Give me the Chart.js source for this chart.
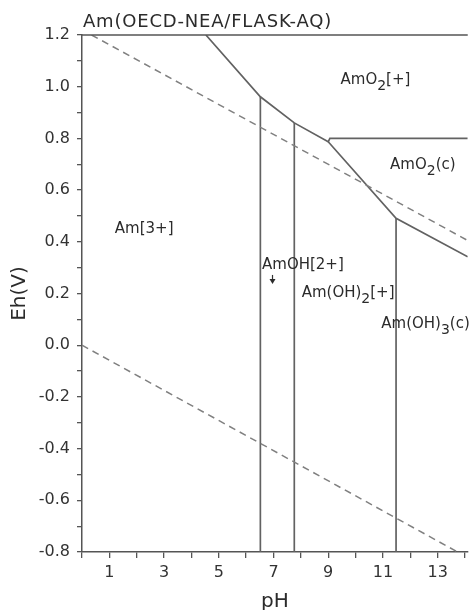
<!DOCTYPE html>
<html>
<head>
<meta charset="utf-8">
<title>Am Eh-pH diagram</title>
<script src="https://cdn.jsdelivr.net/npm/chart.js@4.4.0/dist/chart.umd.min.js"></script>
<style>
  html, body { margin: 0; padding: 0; background: #fff; }
  #wrap { width: 470px; height: 610px; }
</style>
</head>
<body>
<div id="wrap"><canvas id="pourbaix"></canvas></div>
<script>
// water stability limits (dashed)
var upperWaterPH = [0.35, 14.1];
var upperWaterEh = [1.2, 0.405];
var lowerWaterPH = [0, 13.73];
var lowerWaterEh = [0, -0.8];

// Am(III) / AmO2+ boundary
var am3BoundaryPH = [4.53, 6.52, 7.76, 9.0];
var am3BoundaryEh = [1.2, 0.961, 0.86, 0.787];

// AmO2(c) field: top edge and lower edge
var amO2TopPH = [9.0, 9.06, 14.1];
var amO2TopEh = [0.787, 0.80, 0.80];
var amO2LowerPH = [9.0, 11.48, 14.1];
var amO2LowerEh = [0.787, 0.491, 0.342];

// vertical hydrolysis boundaries, from their top down to the axis
var verticalPH = [6.52, 7.76, 11.48];
var verticalTopEh = [0.961, 0.86, 0.491];
var ehMin = -0.8;
var ehMax = 1.2;
var phMax = 14.1;

var title = 'Am(OECD-NEA/FLASK-AQ)';

// species labels: text parts ([text, isSubscript]) and left/baseline in pH, Eh
var regionLabels = [
    { parts: [['AmO', 0], ['2', 1], ['[+]', 0]], ph: 9.45, eh: 1.012 },
    { parts: [['AmO', 0], ['2', 1], ['(c)', 0]], ph: 11.26, eh: 0.682 },
    { parts: [['Am[3+]', 0]], ph: 1.2, eh: 0.434 },
    { parts: [['AmOH[2+]', 0]], ph: 6.58, eh: 0.295, arrow: true },
    { parts: [['Am(OH)', 0], ['2', 1], ['[+]', 0]], ph: 8.03, eh: 0.186 },
    { parts: [['Am(OH)', 0], ['3', 1], ['(c)', 0]], ph: 10.94, eh: 0.067 }
];

var FONT = '"DejaVu Sans", "Liberation Sans", sans-serif';

function toPoints(xs, ys) {
    return xs.map(function (x, i) { return { x: x, y: ys[i] }; });
}

function solid(points) {
    return { data: points, showLine: true, pointRadius: 0, borderColor: '#626262', borderWidth: 1.7, fill: false };
}

function dashed(points) {
    return { data: points, showLine: true, pointRadius: 0, borderColor: '#808080', borderWidth: 1.5, borderDash: [7, 5], fill: false };
}

var datasets = [
    dashed(toPoints(upperWaterPH, upperWaterEh)),
    dashed(toPoints(lowerWaterPH, lowerWaterEh)),
    solid(toPoints(am3BoundaryPH, am3BoundaryEh)),
    solid(toPoints(amO2TopPH, amO2TopEh)),
    solid(toPoints(amO2LowerPH, amO2LowerEh))
];
verticalPH.forEach(function (ph, i) {
    datasets.push(solid(toPoints([ph, ph], [verticalTopEh[i], ehMin])));
});

function drawParts(ctx, parts, x, y, size) {
    parts.forEach(function (p) {
        var sub = p[1] === 1;
        ctx.font = (sub ? size - 1 : size) + 'px ' + FONT;
        ctx.fillText(p[0], x, sub ? y + 6 : y);
        x += ctx.measureText(p[0]).width;
    });
}

var annotations = {
    id: 'annotations',
    afterDatasetsDraw: function (chart) {
        var ctx = chart.ctx;
        var area = chart.chartArea;
        var xs = chart.scales.x;
        var ys = chart.scales.y;
        ctx.save();

        // top frame
        ctx.strokeStyle = '#555';
        ctx.lineWidth = 1.5;
        ctx.beginPath();
        ctx.moveTo(area.left, area.top);
        ctx.lineTo(area.right, area.top);
        ctx.stroke();

        ctx.fillStyle = '#2b2b2b';
        ctx.textBaseline = 'alphabetic';
        ctx.textAlign = 'left';

        ctx.font = '18px ' + FONT;
        ctx.letterSpacing = '0.8px';
        ctx.fillText(title, area.left + 1, area.top - 8);
        ctx.letterSpacing = '0px';

        regionLabels.forEach(function (l) {
            var x = xs.getPixelForValue(l.ph);
            var y = ys.getPixelForValue(l.eh);
            drawParts(ctx, l.parts, x, y, 15);
            if (l.arrow) {
                var ax = x + 10.5;
                ctx.strokeStyle = '#333';
                ctx.lineWidth = 1.2;
                ctx.beginPath();
                ctx.moveTo(ax, y + 6);
                ctx.lineTo(ax, y + 12);
                ctx.stroke();
                ctx.beginPath();
                ctx.moveTo(ax - 3, y + 10);
                ctx.lineTo(ax + 3, y + 10);
                ctx.lineTo(ax, y + 15);
                ctx.closePath();
                ctx.fill();
            }
        });
        ctx.restore();
    }
};

new Chart(document.getElementById('pourbaix'), {
    type: 'scatter',
    data: { datasets: datasets },
    options: {
        responsive: true,
        maintainAspectRatio: false,
        animation: false,
        devicePixelRatio: 1,
        layout: { padding: { top: 35, right: 0, left: 0, bottom: 0 } },
        plugins: {
            legend: { display: false },
            tooltip: { enabled: false }
        },
        scales: {
            x: {
                type: 'linear',
                position: 'bottom',
                min: 0,
                max: phMax,
                afterFit: function (s) { s.height = 58; },
                ticks: {
                    stepSize: 1,
                    includeBounds: false,
                    autoSkip: false,
                    maxRotation: 0,
                    padding: 5,
                    color: '#333',
                    font: { family: FONT, size: 16 },
                    callback: function (v) { return v % 2 === 1 ? String(v) : ''; }
                },
                grid: { drawOnChartArea: false, drawTicks: true, tickLength: 6, color: '#555', lineWidth: 1.3 },
                border: { display: true, color: '#555', width: 1.5 },
                title: {
                    display: true,
                    text: 'pH',
                    color: '#2b2b2b',
                    font: { family: FONT, size: 20, lineHeight: 0.8 },
                    padding: 0
                }
            },
            y: {
                type: 'linear',
                min: ehMin,
                max: ehMax,
                afterFit: function (s) { s.width = 82; },
                ticks: {
                    stepSize: 0.1,
                    autoSkip: false,
                    padding: 7,
                    color: '#333',
                    font: { family: FONT, size: 16 },
                    callback: function (v) {
                        return Math.round(v * 10) % 2 === 0 ? v.toFixed(1) : '';
                    }
                },
                grid: { drawOnChartArea: false, drawTicks: true, tickLength: 5, color: '#555', lineWidth: 1.3 },
                border: { display: true, color: '#555', width: 1.5 },
                title: {
                    display: true,
                    text: 'Eh(V)',
                    color: '#2b2b2b',
                    font: { family: FONT, size: 20, lineHeight: 1.2 },
                    padding: { top: 8, bottom: 0 }
                }
            }
        }
    },
    plugins: [annotations]
});
</script>
</body>
</html>
